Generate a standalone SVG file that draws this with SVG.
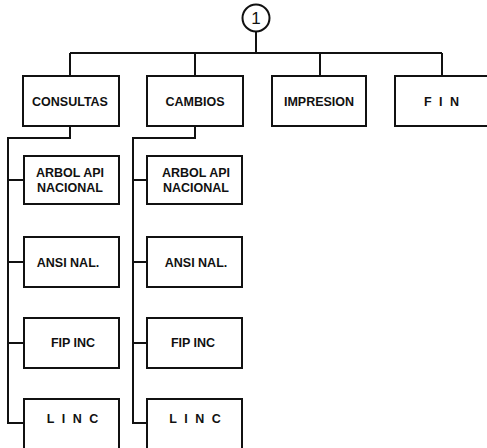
<svg xmlns="http://www.w3.org/2000/svg" width="487" height="448" viewBox="0 0 487 448">
<style>
.box{fill:#fff;stroke:#111;stroke-width:2}
.ln{fill:none;stroke:#111;stroke-width:2}
.t{font-family:"Liberation Sans",Arial,sans-serif;font-weight:bold;font-size:12.5px;fill:#111;text-anchor:middle}
.tl{font-family:"Liberation Sans",Arial,sans-serif;font-weight:bold;font-size:12.5px;fill:#111}
.sp{letter-spacing:2px}
</style>
<rect width="487" height="448" fill="#fff"/>
<g id="connectors">
<path class="ln" d="M256 31.5V53M70 53H442M70 53V76M195 53V76M320 53V76M442 53V76"/>
<path class="ln" d="M70 126V138H8V423H24M8 180H24M8 262H24M8 343H24"/>
<path class="ln" d="M195 126V138H133V423H147M133 180H147M133 262H147M133 343H147"/>
</g>
<g id="start"><circle cx="256" cy="18" r="13.5" fill="#fff" stroke="#111" stroke-width="2"/><text x="256" y="24" font-family="Liberation Sans, Arial, sans-serif" font-size="17" text-anchor="middle" fill="#111">1</text></g>
<g id="consultas"><rect class="box" x="23" y="76" width="96" height="50"/><text class="t" x="70" y="106">CONSULTAS</text></g>
<g id="cambios"><rect class="box" x="147" y="76" width="96" height="50"/><text class="t" x="195" y="106">CAMBIOS</text></g>
<g id="impresion"><rect class="box" x="272" y="76" width="94" height="50"/><text class="t" x="319" y="106">IMPRESION</text></g>
<g id="fin"><rect class="box" x="395" y="76" width="94" height="50"/><text class="t sp" x="442.5" y="106">F I N</text></g>
<g id="c-arbol"><rect class="box" x="24" y="156" width="95" height="48"/><text class="tl" x="36" y="177">ARBOL API</text><text class="tl" x="37" y="191.5">NACIONAL</text></g>
<g id="c-ansi"><rect class="box" x="24" y="237" width="95" height="50"/><text class="t" x="68" y="267">ANSI NAL.</text></g>
<g id="c-fip"><rect class="box" x="24" y="318" width="95" height="50"/><text class="t" x="73" y="347">FIP INC</text></g>
<g id="c-linc"><rect class="box" x="24" y="399" width="95" height="50"/><text class="t sp" x="73.5" y="423">L I N C</text></g>
<g id="m-arbol"><rect class="box" x="147" y="156" width="95" height="48"/><text class="tl" x="162" y="177">ARBOL API</text><text class="tl" x="163" y="191.5">NACIONAL</text></g>
<g id="m-ansi"><rect class="box" x="147" y="237" width="95" height="50"/><text class="t" x="196" y="267">ANSI NAL.</text></g>
<g id="m-fip"><rect class="box" x="147" y="318" width="95" height="50"/><text class="t" x="193" y="347">FIP INC</text></g>
<g id="m-linc"><rect class="box" x="147" y="399" width="95" height="50"/><text class="t sp" x="196" y="423">L I N C</text></g>
</svg>
